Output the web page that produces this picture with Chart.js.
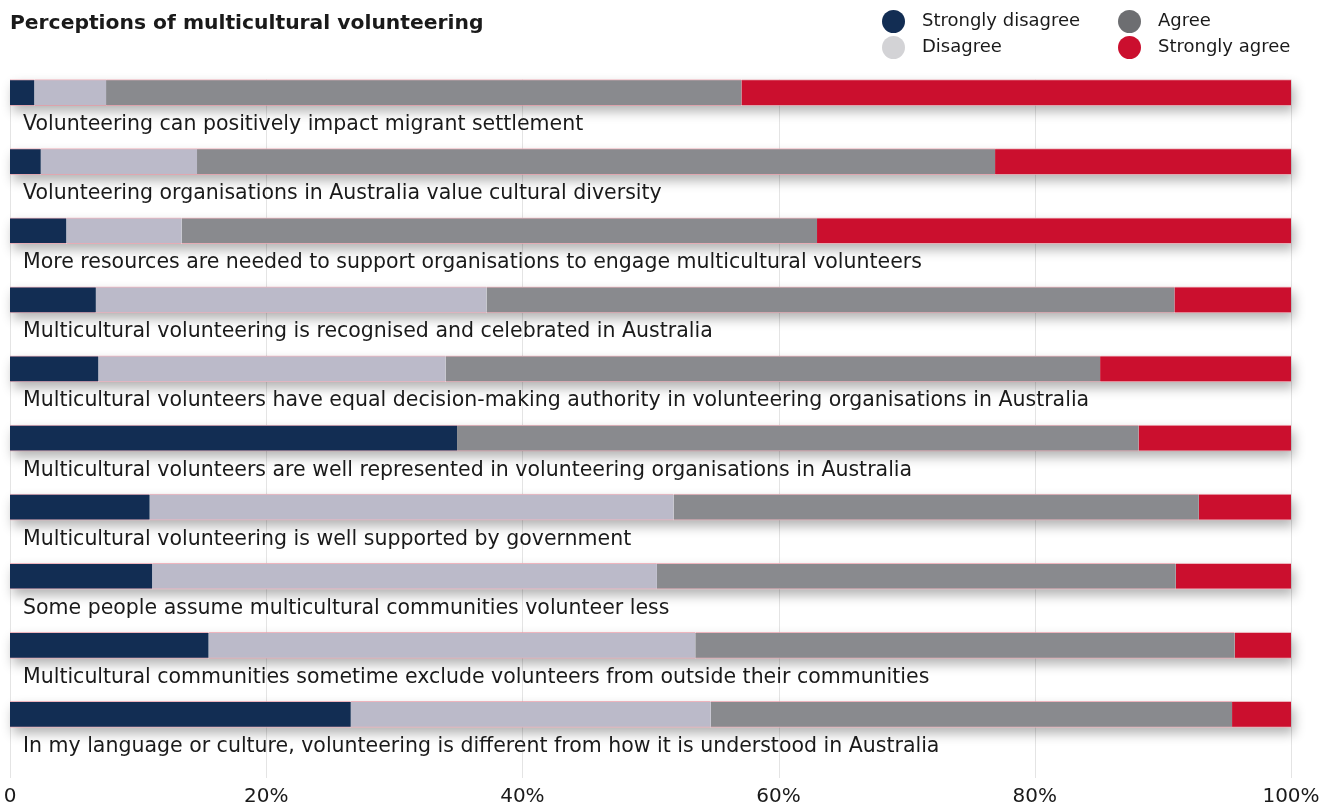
<!DOCTYPE html>
<html><head><meta charset="utf-8">
<script src="https://cdn.jsdelivr.net/npm/chart.js@4/dist/chart.umd.min.js"></script>
<style>
html,body{margin:0;padding:0;background:#fff;}
#wrap{position:relative;width:1339px;height:809px;font-family:"DejaVu Sans",Verdana,sans-serif;color:#1a1a1a;overflow:hidden;}
#c{position:absolute;left:0;top:0;}
#title{position:absolute;left:10px;top:10px;font-weight:bold;font-size:20.3px;line-height:24px;white-space:nowrap;}
.dot{position:absolute;width:23px;height:23px;border-radius:50%;}
.lt{position:absolute;font-size:18px;line-height:24px;white-space:nowrap;}
</style></head>
<body>
<div id="wrap">
<canvas id="c" width="1339" height="809"></canvas>
<div id="title">Perceptions of multicultural volunteering</div>
<div id="legend"></div>
</div>
<script>
const categories = [
  "Volunteering can positively impact migrant settlement",
  "Volunteering organisations in Australia value cultural diversity",
  "More resources are needed to support organisations to engage multicultural volunteers",
  "Multicultural volunteering is recognised and celebrated in Australia",
  "Multicultural volunteers have equal decision-making authority in volunteering organisations in Australia",
  "Multicultural volunteers are well represented in volunteering organisations in Australia",
  "Multicultural volunteering is well supported by government",
  "Some people assume multicultural communities volunteer less",
  "Multicultural communities sometime exclude volunteers from outside their communities",
  "In my language or culture, volunteering is different from how it is understood in Australia"
];
const seriesNames = ["Strongly disagree", "Disagree", "Agree", "Strongly agree"];
const stronglyDisagree = [1.9, 2.4, 4.4, 6.7, 6.9, 34.9, 10.9, 11.1, 15.5, 26.6];
const disagree         = [5.6, 12.2, 9.0, 30.5, 27.1, 0, 40.9, 39.4, 38.0, 28.1];
const agree            = [49.6, 62.3, 49.6, 53.7, 51.1, 53.2, 41.0, 40.5, 42.1, 40.7];
const stronglyAgree    = [42.9, 23.1, 37.0, 9.1, 14.9, 11.9, 7.2, 9.0, 4.4, 4.6];
const tickValues = [0, 20, 40, 60, 80, 100];

const barColors = ["#122d53", "#bbbac9", "#898a8e", "#cb0f2e"];
const legendColors = ["#122d53", "#d3d3d6", "#6d6e71", "#cb0f2e"];
const FONT = '"DejaVu Sans", Verdana, sans-serif';

// legend (HTML)
const legendPos = [[893, 21, 922], [893, 47, 922], [1129, 21, 1158], [1129, 47, 1158]];
const legEl = document.getElementById('legend');
seriesNames.forEach((n, i) => {
  const [cx, cy, tx] = legendPos[i];
  const d = document.createElement('div'); d.className = 'dot';
  d.style.left = (cx - 11.5) + 'px'; d.style.top = (cy - 11.5) + 'px'; d.style.background = legendColors[i];
  legEl.appendChild(d);
  const t = document.createElement('div'); t.className = 'lt'; t.textContent = n;
  t.style.left = tx + 'px'; t.style.top = (cy - 13) + 'px';
  legEl.appendChild(t);
});

const rowPlugin = {
  id: 'rows',
  beforeDatasetsDraw(chart) {
    const { ctx, scales: { x } } = chart;
    const meta = chart.getDatasetMeta(0);
    const first = meta.data[0];
    const top = first.y - first.height / 2;
    ctx.save();
    ctx.strokeStyle = '#e4e4e4'; ctx.lineWidth = 1;
    tickValues.forEach(v => {
      const px = Math.round(x.getPixelForValue(v)) + 0.5;
      ctx.beginPath(); ctx.moveTo(px, top); ctx.lineTo(px, chart.chartArea.bottom + 29); ctx.stroke();
    });
    ctx.shadowColor = 'rgba(0,0,0,0.30)'; ctx.shadowBlur = 12; ctx.shadowOffsetX = 3; ctx.shadowOffsetY = 6;
    ctx.fillStyle = '#fff';
    const x0 = x.getPixelForValue(0), x1 = x.getPixelForValue(100);
    meta.data.forEach(bar => { ctx.fillRect(x0, bar.y - bar.height / 2, x1 - x0, bar.height); });
    ctx.restore();
  },
  afterDatasetsDraw(chart) {
    const { ctx, chartArea } = chart;
    const meta = chart.getDatasetMeta(0);
    ctx.save();
    ctx.fillStyle = '#1a1a1a';
    ctx.font = '20.5px ' + FONT;
    ctx.textBaseline = 'alphabetic'; ctx.textAlign = 'left';
    meta.data.forEach((bar, i) => {
      ctx.fillText(categories[i], chartArea.left + 13, bar.y + 37.5);
    });
    ctx.restore();
  }
};

const seriesData = [stronglyDisagree, disagree, agree, stronglyAgree];
new Chart(document.getElementById('c'), {
  type: 'bar',
  data: {
    labels: categories,
    datasets: seriesNames.map((n, i) => ({
      label: n, data: seriesData[i], backgroundColor: barColors[i],
      borderColor: 'rgba(204,15,47,0.30)', borderWidth: { top: 1, bottom: 1, left: 0, right: 0 },
      borderSkipped: false, barThickness: 26, clip: false
    }))
  },
  options: {
    indexAxis: 'y', responsive: false, animation: false, devicePixelRatio: 1,
    layout: { padding: { left: 10, right: 48, top: 58, bottom: 0 } },
    plugins: { legend: { display: false }, tooltip: { enabled: false }, title: { display: false } },
    scales: {
      x: {
        stacked: true, min: 0, max: 100, position: 'bottom',
        grid: { display: false, drawTicks: false }, border: { display: false },
        afterBuildTicks: s => { s.ticks = tickValues.map(v => ({ value: v })); },
        afterFit: s => { s.height = 60; s.paddingLeft = 0; s.paddingRight = 0; },
        ticks: { padding: 36, color: '#1a1a1a', maxRotation: 0, autoSkip: false,
          font: { family: FONT, size: 20 },
          callback: v => v === 0 ? '0' : v + '%' }
      },
      y: { stacked: true, display: false, offset: true }
    }
  },
  plugins: [rowPlugin]
});
</script>
</body></html>
